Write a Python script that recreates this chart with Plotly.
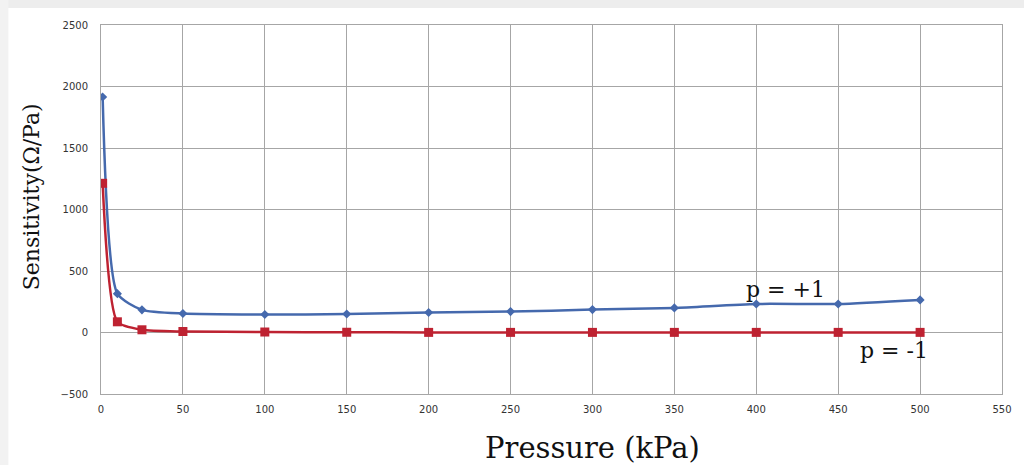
import plotly.graph_objects as go

pressure_pos = [1, 10, 25, 50, 100, 150, 200, 250, 300, 350, 400, 450, 500]
sens_pos = [1915, 316, 184, 154, 146, 150, 162, 170, 186, 200, 232, 232, 265]
pressure_neg = [1, 10, 25, 50, 100, 150, 200, 250, 300, 350, 400, 450, 500]
sens_neg = [1213, 87, 22, 8, 4, 2, 1, 1, 1, 1, 1, 1, 1]

x_ticks = [0, 50, 100, 150, 200, 250, 300, 350, 400, 450, 500, 550]
y_ticks = [-500, 0, 500, 1000, 1500, 2000, 2500]

blue = "#4569AD"
red = "#BE2231"

W, H = 1024, 465
ML, MR, MT, MB = 101, 18, 25, 71
pw = W - ML - MR
ph = H - MT - MB


def px(x):
    return (x - ML) / pw


def py(y):
    return (H - MB - y) / ph


fig = go.Figure()
fig.add_trace(go.Scatter(
    x=pressure_pos, y=sens_pos, mode="lines+markers",
    line=dict(color=blue, width=2.5, shape="spline", smoothing=0.6),
    marker=dict(symbol="diamond", size=7, color=blue),
    name="p = +1", showlegend=False))
fig.add_trace(go.Scatter(
    x=pressure_neg, y=sens_neg, mode="lines+markers",
    line=dict(color=red, width=2.5, shape="spline", smoothing=0.6),
    marker=dict(symbol="square", size=9, color=red),
    name="p = -1", showlegend=False))

grid = "#A6A6A6"
tickfont = dict(family="DejaVu Sans", size=10, color="#333")
fig.update_xaxes(range=[0, 550], tickvals=x_ticks, showgrid=True, gridcolor=grid, gridwidth=1,
                 zeroline=False, showline=True, linecolor=grid, mirror=True,
                 tickfont=tickfont, ticks="", ticklabelstandoff=6)
fig.update_yaxes(range=[-500, 2500], tickvals=y_ticks, showgrid=True, gridcolor=grid, gridwidth=1,
                 zeroline=False, showline=True, linecolor=grid, mirror=True,
                 tickfont=tickfont, ticks="", ticklabelstandoff=10)

serif = "DejaVu Serif"
fig.add_annotation(text="p = +1", x=px(789), y=py(289), xref="paper", yref="paper",
                   showarrow=False, font=dict(family=serif, size=22, color="#111"),
                   xanchor="center", yanchor="middle")
fig.add_annotation(text="p = -1", x=px(898), y=py(350), xref="paper", yref="paper",
                   showarrow=False, font=dict(family=serif, size=22, color="#111"),
                   xanchor="center", yanchor="middle")
fig.add_annotation(text="Pressure (kPa)", x=px(595), y=py(448), xref="paper", yref="paper",
                   showarrow=False, font=dict(family=serif, size=29, color="#111"),
                   xanchor="center", yanchor="middle")
fig.add_annotation(text="Sensitivity(Ω/Pa)", x=px(31), y=py(197), xref="paper", yref="paper",
                   showarrow=False, textangle=-90, font=dict(family=serif, size=22, color="#111"),
                   xanchor="center", yanchor="middle")

fig.update_layout(
    width=W, height=H,
    margin=dict(l=ML, r=MR, t=MT, b=MB),
    paper_bgcolor="white", plot_bgcolor="white",
)
fig.add_shape(type="rect", xref="paper", yref="paper",
              x0=px(0) - 0.01, x1=px(W) + 0.01, y0=py(8), y1=py(-2),
              fillcolor="#EDEDED", line_width=0, layer="below")
fig.add_shape(type="rect", xref="paper", yref="paper",
              x0=px(-2), x1=px(8), y0=py(H + 2), y1=py(-2),
              fillcolor="#F2F2F2", line_width=0, layer="below")

fig.write_html("out.html")
